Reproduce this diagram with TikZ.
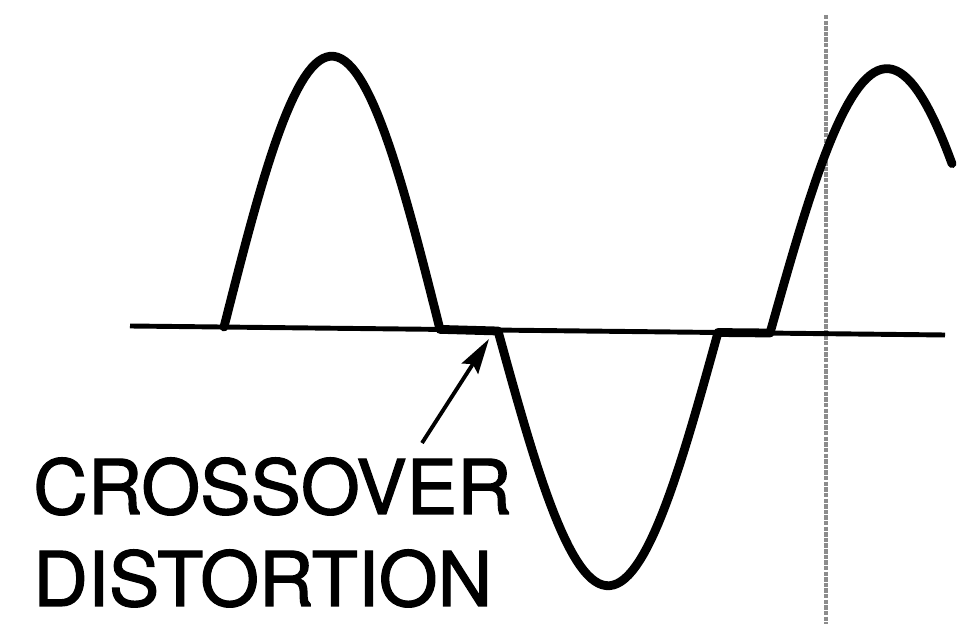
\documentclass[tikz,border=0pt]{standalone}
\usepackage{fontspec}
\setmainfont{TeX Gyre Heros}
\newfontfamily\labelfont[FakeBold=1.6]{TeX Gyre Heros}
\usetikzlibrary{arrows.meta,calc,positioning}
\definecolor{scangray}{rgb}{0.55,0.55,0.55}

\tikzset{
  wave/.style={line width=5pt, line join=round, line cap=round},
  axisline/.style={line width=2.8pt},
  marker/.style={scangray, line width=2pt, dash pattern=on 2.5pt off 0.7pt},
  labeltext/.style={inner sep=0pt, text depth=0pt, anchor=base west, font=\labelfont\fontsize{43}{52}\selectfont}
}

\begin{document}
\begin{tikzpicture}[x=0.02cm,y=-0.02cm]
        \useasboundingbox (0,0) rectangle (974,624);
        \coordinate (b1) at (130,326);
        \coordinate (b2) at (945,335);
        \coordinate (m1) at (826,15);
        \coordinate (m2) at (826,624);
        \coordinate (tail) at (422,443);
        \coordinate (tip) at (489,339);
        %Marker
        \draw[marker] (m1) -- (m2);
        %Axis
        \draw[axisline] (b1) -- (b2);
        %Waveform
        \draw[wave] plot[domain=224:440, samples=60] (\x,{327+2.4*(\x-224)/216-272*sin((\x-224)/216*180)})
          -- (498,331)
          -- plot[domain=498:718, samples=60] (\x,{331+1.5*(\x-498)/220+254*sin((\x-498)/220*180)})
          -- (770,333)
          -- plot[domain=770:952, samples=50] (\x,{333+(\x-770)/182-265*sin((\x-770)/234*180)});
        %Label
        \node[labeltext] (lab1) at (33,514) {CROSSOVER};
        \node[labeltext] (lab2) at (33,606) {DISTORTION};
        \draw[line width=2.2pt, -{Stealth[length=20pt, width=11pt, inset=3pt]}] (tail) -- (tip);
\end{tikzpicture}
\end{document}
